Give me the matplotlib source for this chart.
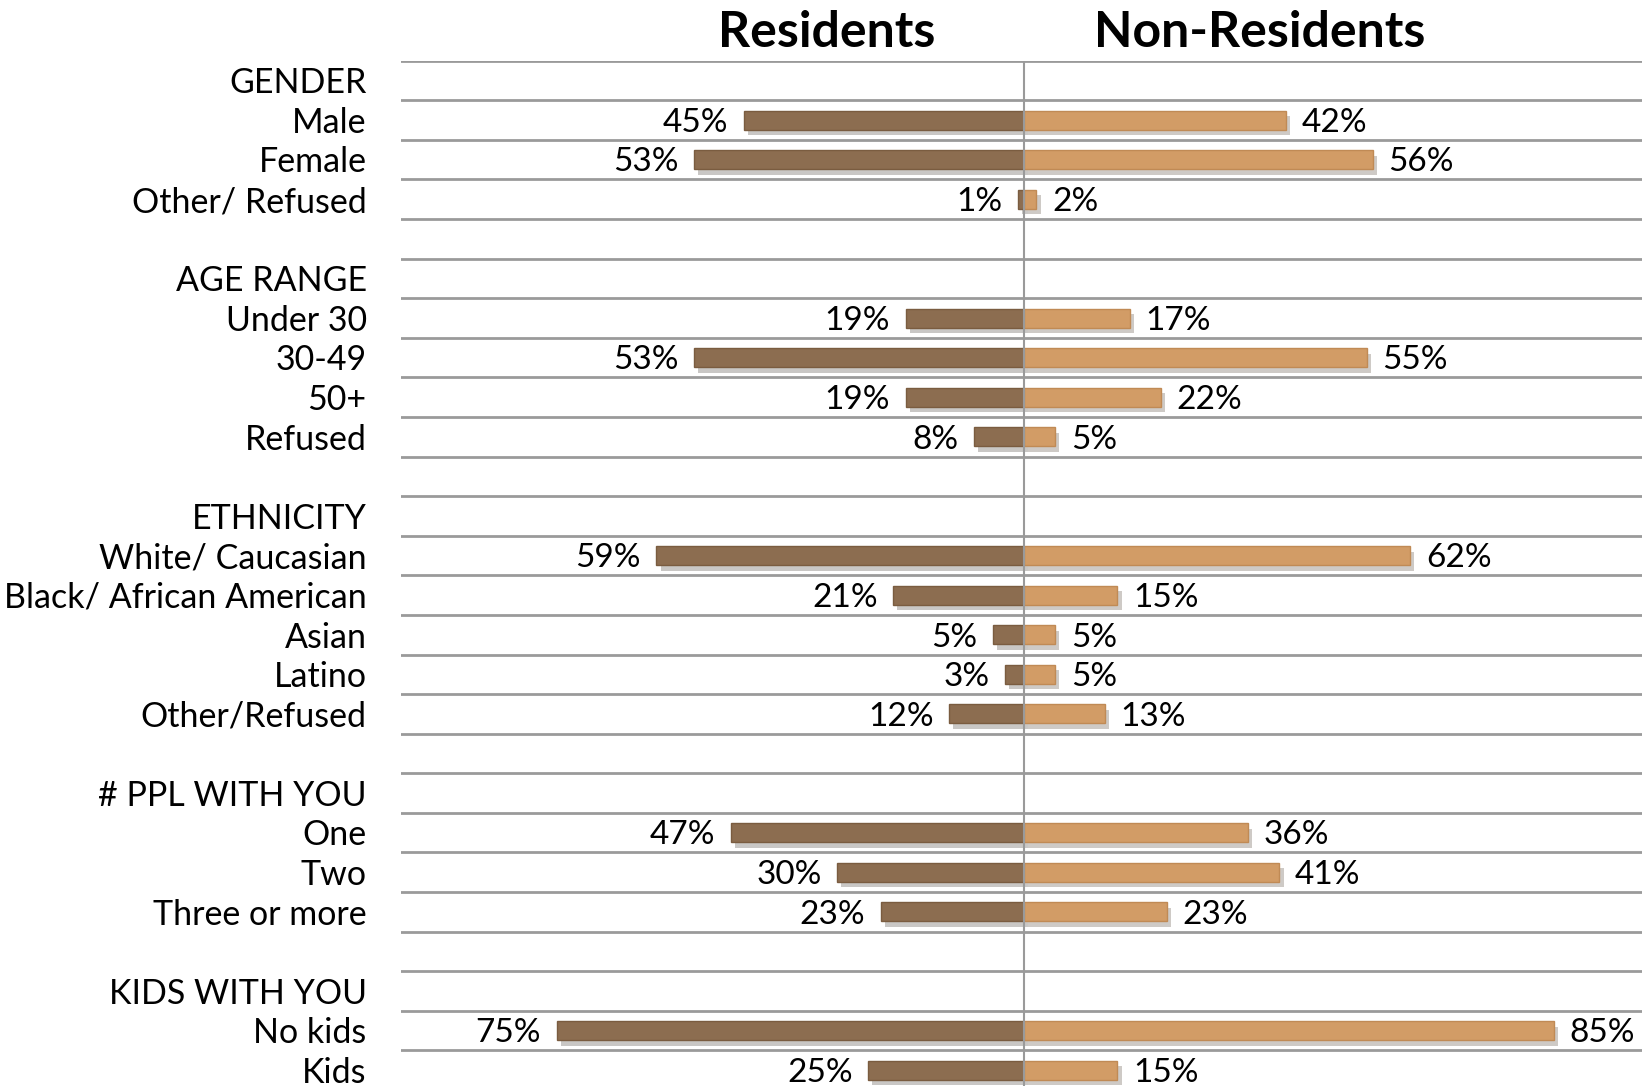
import matplotlib.pyplot as plt
import matplotlib.patheffects as pe

# Sections of the survey table
headers = ['GENDER', 'AGE RANGE', 'ETHNICITY', '# PPL WITH YOU', 'KIDS WITH YOU']
labels = [
    ['Male', 'Female', 'Other/ Refused'],
    ['Under 30', '30-49', '50+', 'Refused'],
    ['White/ Caucasian', 'Black/ African American', 'Asian', 'Latino', 'Other/Refused'],
    ['One', 'Two', 'Three or more'],
    ['No kids', 'Kids'],
]
residents = [
    [45, 53, 1],
    [19, 53, 19, 8],
    [59, 21, 5, 3, 12],
    [47, 30, 23],
    [75, 25],
]
non_residents = [
    [42, 56, 2],
    [17, 55, 22, 5],
    [62, 15, 5, 5, 13],
    [36, 41, 23],
    [85, 15],
]

RES_COLOR = '#8c6d50'
NON_COLOR = '#d29c66'
plt.rcParams['font.family'] = ['Lato', 'DejaVu Sans']

fig = plt.figure(figsize=(16.42, 10.86), dpi=100)
ax = fig.add_axes([401 / 1642, -4 / 1086, 1 - 401 / 1642, (1086 - 60.7 + 4) / 1086])

shadow = [pe.withSimplePatchShadow(offset=(3, -4), alpha=0.25)]
dy = 0.07  # text sits a touch below the row centre

row = 0
text_rows = []
for h, labs, res, non in zip(headers, labels, residents, non_residents):
    text_rows.append((row, h))
    row += 1
    for lab, r, n in zip(labs, res, non):
        text_rows.append((row, lab))
        ax.barh(row, -r, height=0.48, color=RES_COLOR, edgecolor='#7a5c40',
                linewidth=1, path_effects=shadow, zorder=3)
        ax.barh(row, n, height=0.48, color=NON_COLOR, edgecolor='#c08a55',
                linewidth=1, path_effects=shadow, zorder=3)
        ax.text(-r - 2.5, row + dy, f'{r}%', ha='right', va='center', fontsize=24)
        ax.text(n + 2.5, row + dy, f'{n}%', ha='left', va='center', fontsize=24)
        row += 1
    row += 1  # blank spacer row

n_rows = row - 1
for y, t in text_rows:
    ax.text(-105.5, y + dy, t, ha='right', va='center', fontsize=24.5)

for b in range(n_rows + 1):
    ax.axhline(b - 0.5, color='#9a9a9a', linewidth=2, zorder=1)
ax.axvline(0, color='#9a9a9a', linewidth=1.5, zorder=4)

ax.set_xlim(-100, 99.2)
ax.set_ylim(n_rows - 0.5, -0.5)
ax.axis('off')

ax.text(-31.6, -0.5 - 0.72, 'Residents', ha='center', va='center',
        fontsize=36, fontweight='bold')
ax.text(37.9, -0.5 - 0.72, 'Non-Residents', ha='center', va='center',
        fontsize=36, fontweight='bold')

fig.savefig('out.png', dpi=100)
